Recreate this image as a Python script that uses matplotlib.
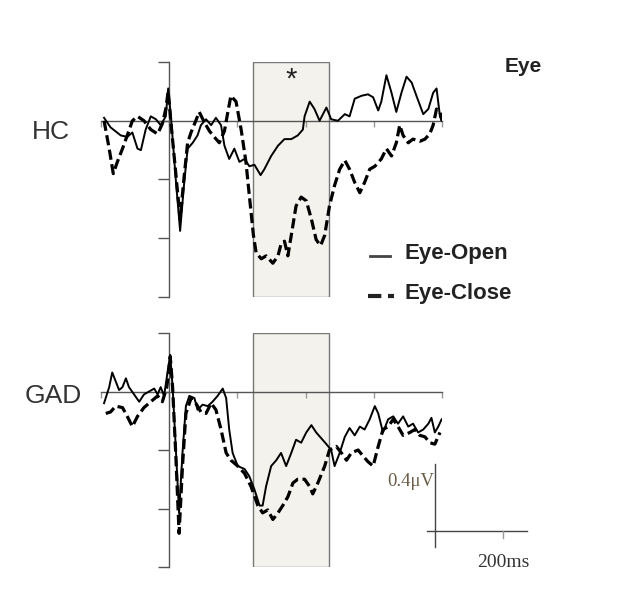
import matplotlib
matplotlib.use("Agg")
import matplotlib.pyplot as plt
from matplotlib.patches import Rectangle
from matplotlib.lines import Line2D

# HC group, eye-open (solid) and eye-close (dashed); time in ms, amplitude in uV
hc_open_t = [-191, -172, -142, -123, -108, -93, -83, -69, -54, -39, -25, -10, -3, 5, 20, 32, 44, 54, 69, 83,
             93, 108, 123, 137, 152, 162, 176, 191, 206, 221, 235, 250, 268, 279, 299, 319, 338, 358, 377, 392,
             397, 412, 426, 441, 461, 475, 495, 515, 529, 544, 564, 583, 598, 613, 622, 637, 652, 666, 681, 696,
             711, 725, 745, 760, 774, 784, 794, 800]
hc_open_v = [0.02, -0.045, -0.10, -0.11, -0.08, -0.19, -0.20, -0.06, 0.03, 0.01, -0.03, 0.03, 0.22, 0.03, -0.42,
             -0.75, -0.42, -0.19, -0.15, -0.10, -0.03, 0.01, -0.03, 0.02, -0.03, -0.17, -0.26, -0.19, -0.28, -0.26,
             -0.31, -0.30, -0.37, -0.33, -0.24, -0.17, -0.125, -0.125, -0.10, -0.06, 0.03, 0.13, 0.08, 0.0, 0.09,
             0.01, 0.0, 0.045, 0.03, 0.15, 0.17, 0.18, 0.16, 0.07, 0.13, 0.31, 0.19, 0.06, 0.19, 0.30, 0.26, 0.17,
             0.045, 0.08, 0.19, 0.22, 0.03, 0.0]

hc_close_t = [-191, -176, -164, -152, -137, -123, -108, -93, -74, -54, -34, -20, -10, -3, 5, 20, 32, 44, 54, 64,
              78, 88, 103, 118, 132, 147, 162, 172, 181, 196, 211, 225, 235, 247, 255, 270, 284, 304, 319, 328,
              338, 348, 358, 372, 387, 402, 417, 431, 444, 456, 470, 485, 500, 515, 529, 544, 559, 573, 588, 603,
              622, 637, 652, 666, 676, 686, 701, 715, 735, 750, 764, 774, 784, 794, 800]
hc_close_v = [0.0, -0.19, -0.36, -0.28, -0.19, -0.10, 0.0, 0.03, 0.0, -0.06, -0.09, -0.02, 0.08, 0.20, -0.01,
              -0.375, -0.67, -0.375, -0.15, -0.08, 0.0, 0.06, -0.01, -0.07, -0.11, -0.15, -0.07, 0.06, 0.17, 0.13,
              -0.06, -0.28, -0.51, -0.78, -0.90, -0.94, -0.92, -0.97, -0.92, -0.84, -0.82, -0.92, -0.78, -0.58,
              -0.52, -0.545, -0.67, -0.81, -0.85, -0.78, -0.58, -0.44, -0.33, -0.27, -0.33, -0.42, -0.49, -0.42,
              -0.33, -0.31, -0.26, -0.19, -0.24, -0.15, -0.03, -0.10, -0.15, -0.125, -0.14, -0.125, -0.09, -0.03,
              0.08, 0.06, 0.0]

# GAD group
gad_open_t = [-191, -176, -167, -157, -147, -137, -127, -118, -103, -88, -74, -59, -44, -34, -25, -15, -5, 3, 10,
              20, 29, 39, 49, 59, 74, 83, 98, 113, 127, 142, 157, 167, 176, 186, 201, 221, 235, 250, 265, 274,
              284, 299, 314, 328, 343, 358, 372, 387, 402, 417, 431, 446, 461, 475, 485, 500, 515, 529, 544, 559,
              573, 588, 603, 613, 627, 642, 657, 671, 686, 701, 715, 730, 745, 760, 769, 779, 789, 799]
gad_open_v = [-0.08, 0.03, 0.13, 0.07, 0.01, 0.03, 0.09, 0.03, -0.02, -0.07, -0.02, 0.0, 0.02, -0.02, 0.03,
              -0.03, 0.13, 0.25, 0.03, -0.42, -0.83, -0.42, -0.10, -0.03, -0.045, -0.125, -0.09, -0.10, -0.07,
              -0.03, 0.02, -0.045, -0.26, -0.42, -0.51, -0.53, -0.58, -0.67, -0.78, -0.78, -0.65, -0.51, -0.47,
              -0.42, -0.51, -0.42, -0.33, -0.35, -0.28, -0.23, -0.28, -0.32, -0.36, -0.40, -0.51, -0.42, -0.31,
              -0.25, -0.30, -0.24, -0.26, -0.19, -0.10, -0.15, -0.28, -0.19, -0.17, -0.22, -0.17, -0.24, -0.22,
              -0.28, -0.26, -0.22, -0.18, -0.28, -0.24, -0.19]

gad_close_t = [-186, -172, -157, -137, -123, -108, -93, -74, -54, -34, -20, -7, 3, 10, 20, 29, 39, 49, 64, 78,
               93, 108, 123, 137, 152, 167, 181, 201, 221, 240, 260, 274, 289, 304, 319, 333, 348, 363, 377, 397,
               412, 421, 436, 456, 470, 490, 505, 520, 534, 554, 568, 583, 598, 613, 627, 642, 657, 671, 686, 706,
               720, 735, 750, 764, 779, 794]
gad_close_v = [-0.15, -0.14, -0.10, -0.11, -0.17, -0.24, -0.17, -0.11, -0.07, -0.03, -0.07, 0.03, 0.24, 0.03,
               -0.47, -0.97, -0.51, -0.15, -0.045, -0.08, -0.14, -0.15, -0.08, -0.125, -0.26, -0.42, -0.47, -0.51,
               -0.56, -0.65, -0.78, -0.83, -0.81, -0.875, -0.83, -0.78, -0.72, -0.625, -0.60, -0.60, -0.65, -0.70,
               -0.625, -0.51, -0.40, -0.375, -0.42, -0.47, -0.42, -0.40, -0.44, -0.48, -0.51, -0.375, -0.26, -0.24,
               -0.19, -0.24, -0.30, -0.28, -0.26, -0.30, -0.31, -0.35, -0.36, -0.28]

window = (245, 468)  # shaded analysis window, ms
yticks = [-1.2, -0.8, -0.4, 0.0, 0.4]
xticks = [-200, 0, 200, 400, 600, 800]

plt.rcParams['font.family'] = ['Liberation Sans', 'DejaVu Sans']

fig = plt.figure(figsize=(6.2, 6.02), dpi=100)
ax1 = fig.add_axes([101 / 620, 1 - 297 / 602, 341 / 620, 235 / 602])
ax2 = fig.add_axes([101 / 620, 1 - 567 / 602, 341 / 620, 234 / 602])

axis_col = '#555555'
for ax in (ax1, ax2):
    ax.set_xlim(-200, 800)
    ax.set_ylim(-1.2, 0.4)
    ax.patch.set_visible(False)
    for s in ('top', 'right'):
        ax.spines[s].set_visible(False)
    ax.spines['left'].set_position(('data', 0))
    ax.spines['bottom'].set_position(('data', 0))
    for s in ('left', 'bottom'):
        ax.spines[s].set_color(axis_col)
        ax.spines[s].set_linewidth(1.0)
        ax.spines[s].set_zorder(2)
    ax.set_xticks(xticks)
    ax.set_yticks(yticks)
    ax.set_xticklabels([])
    ax.set_yticklabels([])
    ax.tick_params(axis='y', direction='out', length=8, width=1, color=axis_col)
    ax.tick_params(axis='x', direction='out', length=4, width=1, color='#999999')
    ax.add_patch(Rectangle((window[0], -1.2), window[1] - window[0], 1.6,
                           facecolor='#f3f2ec', edgecolor='#777777', lw=1.0, zorder=0.5))

dash = (3.2, 1.4)
ax1.plot(hc_open_t, hc_open_v, color='black', lw=1.4, zorder=3, solid_joinstyle='round')
ax1.plot(hc_close_t, hc_close_v, color='black', lw=2.3, ls=(0, dash), zorder=3)
ax2.plot(gad_open_t, gad_open_v, color='black', lw=1.4, zorder=3, solid_joinstyle='round')
ax2.plot(gad_close_t, gad_close_v, color='black', lw=2.3, ls=(0, dash), zorder=3)

ax1.text(0.5 * (window[0] + window[1]), 0.28, '*', ha='center', va='center', fontsize=21, color='#222222')

# scale bar
sx, sy = 780, -0.955
ax2.plot([sx, sx], [sy - 0.11, sy + 0.46], color='#444444', lw=1.0, clip_on=False)
ax2.plot([sx - 25, sx + 270], [sy, sy], color='#444444', lw=1.0, clip_on=False)
ax2.plot([sx + 200, sx + 200], [sy, sy - 0.05], color='#999999', lw=1.0, clip_on=False)
ax2.text(sx - 4, sy + 0.34, '0.4\u03bcV', ha='right', va='center', fontsize=13.5,
         family=['Liberation Serif', 'DejaVu Serif'], color='#6b5d48')
ax2.text(sx + 200, sy - 0.215, '200ms', ha='center', va='center', fontsize=14,
         family=['Liberation Serif', 'DejaVu Serif'], color='#333333')

fig.text(51 / 620, 1 - 132 / 602, 'HC', ha='center', va='center', fontsize=19, color='#333333')
fig.text(53 / 620, 1 - 396 / 602, 'GAD', ha='center', va='center', fontsize=19, color='#333333')
fig.text(505 / 620, 1 - 66 / 602, 'Eye', ha='left', va='center', fontsize=15, fontweight='bold', color='#222222')

# legend keys drawn by hand, as in the original figure
fig.add_artist(Line2D([370 / 620, 390 / 620], [1 - 256 / 602] * 2, transform=fig.transFigure,
                      color='#444444', lw=2.0))
fig.add_artist(Line2D([368 / 620, 394 / 620], [1 - 296 / 602] * 2, transform=fig.transFigure,
                      color='#222222', lw=3.0, ls=(0, (3.2, 1.6))))
fig.text(405 / 620, 1 - 254 / 602, 'Eye-Open', ha='left', va='center', fontsize=16,
         fontweight='bold', color='#222222')
fig.text(405 / 620, 1 - 294 / 602, 'Eye-Close', ha='left', va='center', fontsize=16,
         fontweight='bold', color='#222222')

fig.savefig('out.png', dpi=100)
